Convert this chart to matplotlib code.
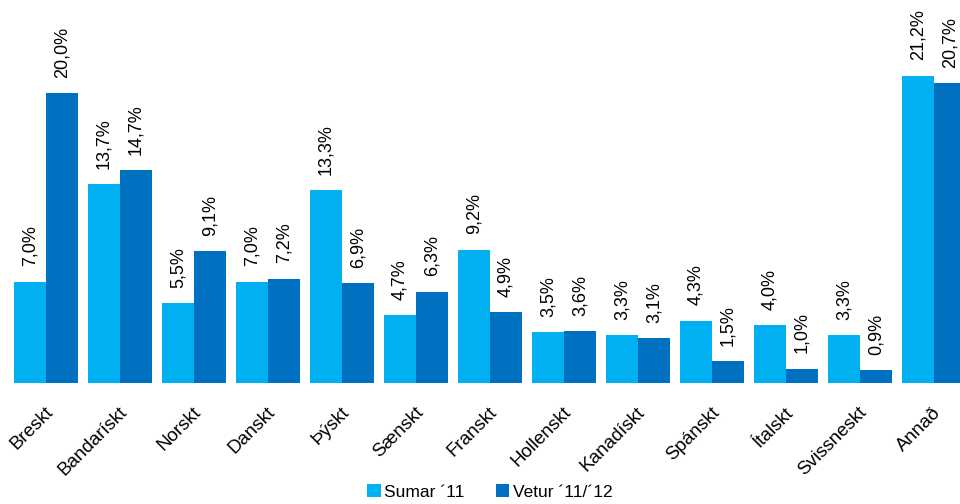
import matplotlib.pyplot as plt
import numpy as np

plt.rcParams['font.family'] = ['Liberation Sans', 'DejaVu Sans']

categories = ['Breskt', 'Bandarískt', 'Norskt', 'Danskt', 'Þýskt', 'Sænskt', 'Franskt',
              'Hollenskt', 'Kanadískt', 'Spánskt', 'Ítalskt', 'Svissneskt', 'Annað']
sumar = [7.0, 13.7, 5.5, 7.0, 13.3, 4.7, 9.2, 3.5, 3.3, 4.3, 4.0, 3.3, 21.2]
vetur = [20.0, 14.7, 9.1, 7.2, 6.9, 6.3, 4.9, 3.6, 3.1, 1.5, 1.0, 0.9, 20.7]
series_names = ['Sumar \u00b411', 'Vetur \u00b411/\u00b412']
colors = ['#00B0F0', '#0070C0']

fig = plt.figure(figsize=(9.6, 5.04), dpi=100)
ax = fig.add_axes([0, 0.24, 1, 0.76])

x = np.arange(len(categories))
w = 32 / 74
b1 = ax.bar(x - w / 2, sumar, w, color=colors[0], label=series_names[0])
b2 = ax.bar(x + w / 2, vetur, w, color=colors[1], label=series_names[1])

for bars, vals in ((b1, sumar), (b2, vetur)):
    for bar, v in zip(bars, vals):
        ax.annotate(f'{v:.1f}%'.replace('.', ','),
                    (bar.get_x() + bar.get_width() / 2, v),
                    xytext=(0, 11), textcoords='offset points',
                    rotation=90, ha='center', va='bottom', fontsize=13)

ax.set_xlim(-46 / 74, 914 / 74)
ax.set_ylim(0, 383 / 14.5)
ax.set_xticks(x - 0.02)
ax.set_xticklabels(categories, rotation=45, ha='right', va='top',
                   rotation_mode='anchor', fontsize=13.5)
ax.tick_params(axis='x', length=0, pad=15)
ax.set_yticks([])
for s in ax.spines.values():
    s.set_visible(False)

fig.legend(loc='center', bbox_to_anchor=(0.51, 0.024), ncol=2, frameon=False,
           fontsize=12.5, handlelength=0.8, handleheight=0.8, handletextpad=0.2,
           columnspacing=1.8)

fig.savefig('out.png', dpi=100)
